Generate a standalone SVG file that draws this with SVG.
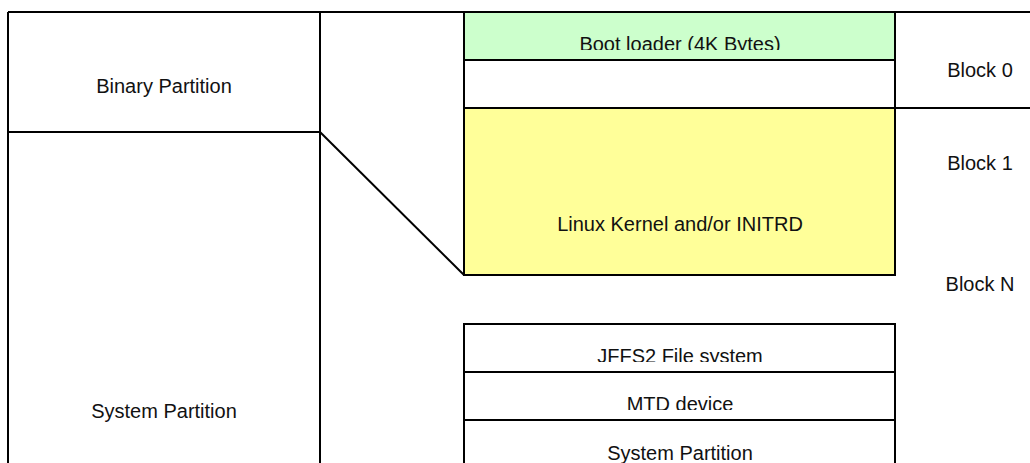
<svg xmlns="http://www.w3.org/2000/svg" width="1030" height="463" viewBox="0 0 1030 463">
  <style>
    .ln { stroke: #000; stroke-width: 2; fill: none; }
    .box { stroke: #000; stroke-width: 2; }
    .t { font-family: "Liberation Sans", Arial, sans-serif; font-size: 20px; fill: #111; text-anchor: middle; }
  </style>
  <defs>
    <clipPath id="clipBoot"><rect x="464" y="12" width="431" height="38"/></clipPath>
    <clipPath id="clipJffs"><rect x="464" y="324" width="431" height="38"/></clipPath>
    <clipPath id="clipMtd"><rect x="464" y="372" width="431" height="38"/></clipPath>
  </defs>
  <rect width="1030" height="463" fill="#fff"/>

  <!-- partition frame and the mapping line -->
  <g id="connectors">
    <line class="ln" x1="8" y1="12" x2="1030" y2="12"/>
    <line class="ln" x1="8" y1="12" x2="8" y2="463"/>
    <line class="ln" x1="320" y1="12" x2="320" y2="463"/>
    <line class="ln" x1="8" y1="132" x2="320" y2="132"/>
    <line class="ln" x1="895" y1="108" x2="1030" y2="108"/>
    <line class="ln" x1="320" y1="132" x2="464" y2="275" stroke-width="1.5"/>
  </g>

  <g id="binary-partition">
    <text class="t" x="164" y="93">Binary Partition</text>
  </g>
  <g id="system-partition-left">
    <text class="t" x="164" y="418">System Partition</text>
  </g>

  <g id="boot-loader">
    <rect class="box" x="464" y="12" width="431" height="48" fill="#ccffcc"/>
    <text class="t" x="680" y="51" clip-path="url(#clipBoot)">Boot loader (4K Bytes)</text>
  </g>
  <g id="block0-rest">
    <rect class="box" x="464" y="60" width="431" height="48" fill="#fff"/>
  </g>
  <g id="kernel">
    <rect class="box" x="464" y="108" width="431" height="167" fill="#ffff99"/>
    <text class="t" x="680" y="231">Linux Kernel and/or INITRD</text>
  </g>

  <g id="block-labels">
    <text class="t" x="980" y="77">Block 0</text>
    <text class="t" x="980" y="170">Block 1</text>
    <text class="t" x="980" y="291">Block N</text>
  </g>

  <g id="jffs2">
    <rect class="box" x="464" y="324" width="431" height="48" fill="#fff"/>
    <text class="t" x="680" y="363" clip-path="url(#clipJffs)">JFFS2 File system</text>
  </g>
  <g id="mtd">
    <rect class="box" x="464" y="372" width="431" height="48" fill="#fff"/>
    <text class="t" x="680" y="411" clip-path="url(#clipMtd)">MTD device</text>
  </g>
  <g id="system-partition-right">
    <rect class="box" x="464" y="420" width="431" height="60" fill="#fff"/>
    <text class="t" x="680" y="460">System Partition</text>
  </g>
</svg>
